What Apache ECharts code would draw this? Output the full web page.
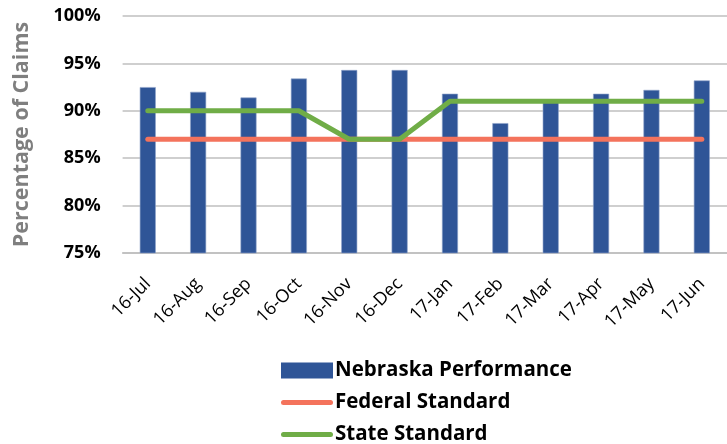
<!DOCTYPE html>
<html><head><meta charset="utf-8">
<script src="https://cdn.jsdelivr.net/npm/echarts@6/dist/echarts.min.js"></script>
<style>html,body{margin:0;padding:0;background:#fff}#c{width:727px;height:444px}</style>
</head><body><div id="c"></div>
<script>
const categories = ['16-Jul','16-Aug','16-Sep','16-Oct','16-Nov','16-Dec','17-Jan','17-Feb','17-Mar','17-Apr','17-May','17-Jun'];
const nebraska = [92.5, 92.0, 91.4, 93.4, 94.3, 94.3, 91.8, 88.7, 90.9, 91.8, 92.2, 93.2];
const federal = [87, 87, 87, 87, 87, 87, 87, 87, 87, 87, 87, 87];
const state = [90, 90, 90, 90, 87, 87, 91, 91, 91, 91, 91, 91];
const yTicks = [75, 80, 85, 90, 95, 100];

const FONT = 'Open Sans';
const LINE_ICON = 'path://M2.5,0 H49.5 A2.5,2.5 0 0 1 49.5,5 H2.5 A2.5,2.5 0 0 1 2.5,0 Z';
const chart = echarts.init(document.getElementById('c'));
chart.setOption({
  animation: false,
  textStyle: {fontFamily: FONT},
  grid: {left: 122.6, top: 16, width: 617.4, height: 237, containLabel: false},
  xAxis: {
    type: 'category', data: categories,
    axisLine: {lineStyle: {color: '#bfbfbf', width: 1.5}},
    axisTick: {show: false},
    axisLabel: {rotate: 45, fontSize: 18, color: '#000', fontFamily: FONT, margin: 28}
  },
  yAxis: {
    type: 'value', min: yTicks[0], max: yTicks[yTicks.length-1], interval: 5,
    name: 'Percentage of Claims', nameLocation: 'middle', nameGap: 90, nameRotate: 90,
    nameTextStyle: {fontSize: 21.5, fontWeight: 'bold', color: '#7f7f7f', fontFamily: FONT},
    axisLine: {show: false}, axisTick: {show: false},
    splitLine: {lineStyle: {color: '#bfbfbf', width: 1.5}},
    axisLabel: {formatter: v => v + '%', fontSize: 18, fontWeight: 'bold', color: '#000', margin: 22, fontFamily: FONT}
  },
  legend: {
    orient: 'vertical', left: 276, top: 355, height: 100, itemGap: 11, itemWidth: 52, itemHeight: 16,
    textStyle: {fontSize: 20.5, lineHeight: 20, fontWeight: 'bold', color: '#000', fontFamily: FONT, padding: [0,0,0,-3]},
    data: [
      {name: 'Nebraska Performance', icon: 'rect', itemStyle: {borderWidth: 0}},
      {name: 'Federal Standard', icon: LINE_ICON},
      {name: 'State Standard', icon: LINE_ICON}
    ]
  },
  series: [
    {name: 'Nebraska Performance', type: 'bar', data: nebraska, barWidth: 16,
     itemStyle: {color: '#2F5597', borderColor: '#8fa3c9', borderWidth: 0.6}},
    {name: 'Federal Standard', type: 'line', data: federal, symbol: 'none',
     lineStyle: {color: '#F4735C', width: 5, cap: 'round', join: 'round'}, itemStyle: {color: '#F4735C'}},
    {name: 'State Standard', type: 'line', data: state, symbol: 'none',
     lineStyle: {color: '#70AD47', width: 5, cap: 'round', join: 'round'}, itemStyle: {color: '#70AD47'}}
  ]
});
</script></body></html>
